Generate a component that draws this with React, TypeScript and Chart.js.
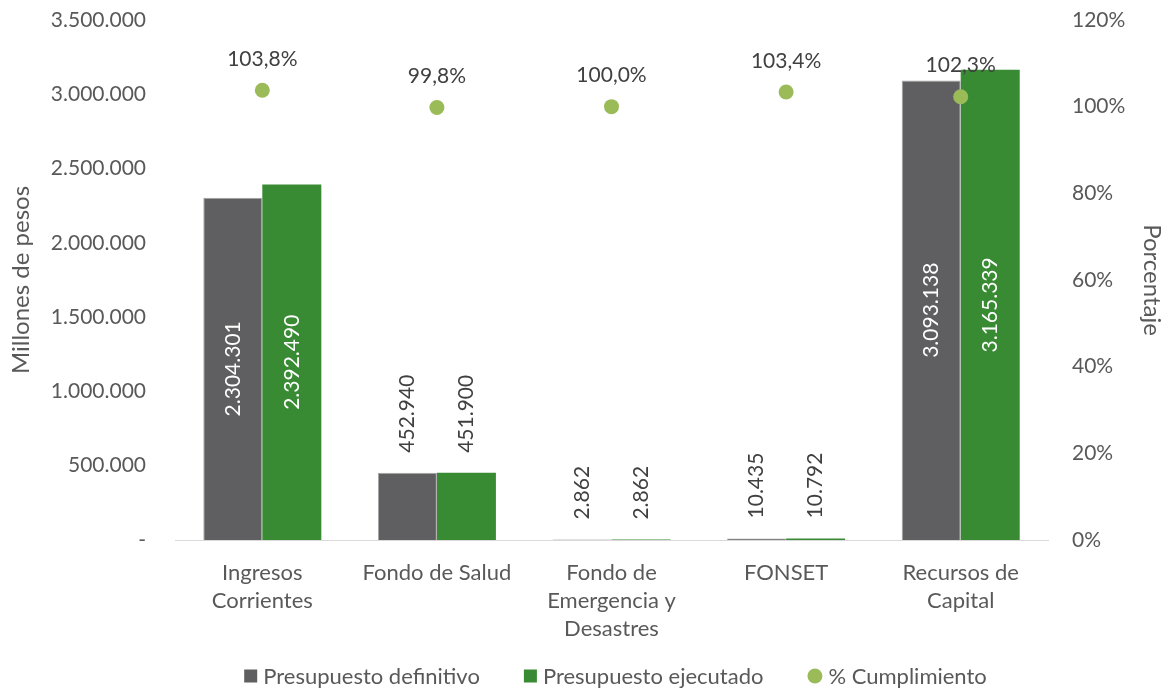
import React, { useEffect, useRef } from "react";
import { Chart, registerables } from "chart.js";

Chart.register(...registerables);

const categories: string[][] = [
  ["Ingresos", "Corrientes"],
  ["Fondo de Salud"],
  ["Fondo de", "Emergencia y", "Desastres"],
  ["FONSET"],
  ["Recursos de", "Capital"],
];
const presupuestoDefinitivo = [2304301, 452940, 2862, 10435, 3093138];
const presupuestoEjecutado = [2392490, 451900, 2862, 10792, 3165339];
const cumplimiento = [103.8, 99.8, 100.0, 103.4, 102.3];

const seriesNames = ["Presupuesto definitivo", "Presupuesto ejecutado", "% Cumplimiento"];

const FONT = "Lato, 'Open Sans', sans-serif";
const TEXT = "#595959";
const LABEL = "#404040";
const GRAY = "#5F5F61";
const GREEN = "#388A33";
const LIGHTGREEN = "#9BBB59";

function fmtThousands(v: number): string {
  const s = Math.round(v).toString();
  return s.replace(/\B(?=(\d{3})+(?!\d))/g, ".");
}
function fmtPct(v: number): string {
  return v.toFixed(1).replace(".", ",") + "%";
}

const labelPlugin = {
  id: "valueLabels",
  afterDatasetsDraw(chart: any) {
    const ctx = chart.ctx;
    ctx.save();
    ctx.font = `21px ${FONT}`;
    [0, 1].forEach((di) => {
      const meta = chart.getDatasetMeta(di);
      const data = chart.data.datasets[di].data as number[];
      meta.data.forEach((el: any, i: number) => {
        const v = data[i];
        const txt = fmtThousands(v);
        ctx.save();
        if (v > 1000000) {
          ctx.translate(el.x, (el.y + el.base) / 2);
          ctx.rotate(-Math.PI / 2);
          ctx.textAlign = "center";
          ctx.textBaseline = "middle";
          ctx.fillStyle = "#FFFFFF";
        } else {
          ctx.translate(el.x, el.y - 20);
          ctx.rotate(-Math.PI / 2);
          ctx.textAlign = "left";
          ctx.textBaseline = "middle";
          ctx.fillStyle = LABEL;
        }
        ctx.fillText(txt, 0, 0);
        ctx.restore();
      });
    });
    const meta2 = chart.getDatasetMeta(2);
    const data2 = chart.data.datasets[2].data as number[];
    meta2.data.forEach((el: any, i: number) => {
      ctx.textAlign = "center";
      ctx.textBaseline = "middle";
      ctx.fillStyle = LABEL;
      ctx.fillText(fmtPct(data2[i]), el.x, el.y - 31);
    });
    ctx.restore();
  },
};

const legendPlugin = {
  id: "customLegend",
  afterDraw(chart: any) {
    const ctx = chart.ctx;
    const area = chart.chartArea;
    ctx.save();
    ctx.font = `22px ${FONT}`;
    ctx.textBaseline = "middle";
    ctx.textAlign = "left";
    const box = 13;
    const gapText = 6;
    const gapItem = 44;
    const items = chart.data.datasets.map((ds: any, i: number) => ({
      text: ds.label as string,
      color: i === 2 ? LIGHTGREEN : (ds.backgroundColor as string),
      circle: i === 2,
      w: 0,
    }));
    let total = 0;
    items.forEach((it: any, i: number) => {
      const sym = it.circle ? 15 : box;
      it.sym = sym;
      it.w = sym + gapText + ctx.measureText(it.text).width;
      total += it.w + (i > 0 ? gapItem : 0);
    });
    let x = (area.left + area.right) / 2 - total / 2 + 4;
    const y = 676;
    items.forEach((it: any) => {
      ctx.fillStyle = it.color;
      if (it.circle) {
        ctx.beginPath();
        ctx.arc(x + it.sym / 2, y, it.sym / 2, 0, Math.PI * 2);
        ctx.fill();
      } else {
        ctx.fillRect(x, y - box / 2, box, box);
      }
      ctx.fillStyle = TEXT;
      ctx.fillText(it.text, x + it.sym + gapText, y + 1);
      x += it.w + gapItem;
    });
    ctx.restore();
  },
};

export default function App() {
  const ref = useRef<HTMLCanvasElement | null>(null);
  useEffect(() => {
    document.body.style.margin = "0";
    if (!ref.current) return;
    const chart = new Chart(ref.current, {
      type: "bar",
      data: {
        labels: categories,
        datasets: [
          {
            type: "bar",
            label: seriesNames[0],
            data: presupuestoDefinitivo,
            backgroundColor: GRAY,
            borderColor: "#A5A5A5",
            borderWidth: 1,
            yAxisID: "y",
            categoryPercentage: 0.676,
            barPercentage: 1.0,
            order: 2,
          } as any,
          {
            type: "bar",
            label: seriesNames[1],
            data: presupuestoEjecutado,
            backgroundColor: GREEN,
            borderWidth: 0,
            yAxisID: "y",
            categoryPercentage: 0.676,
            barPercentage: 1.0,
            order: 2,
          } as any,
          {
            type: "line",
            label: seriesNames[2],
            data: cumplimiento,
            showLine: false,
            pointRadius: 7.5,
            pointBackgroundColor: LIGHTGREEN,
            pointBorderWidth: 0,
            backgroundColor: LIGHTGREEN,
            borderColor: LIGHTGREEN,
            yAxisID: "y1",
            order: 1,
          } as any,
        ],
      },
      options: {
        responsive: false,
        animation: false,
        layout: { padding: { top: 20, left: 0, right: 0, bottom: 0 } },
        plugins: {
          tooltip: { enabled: false },
          legend: { display: false },
        },
        scales: {
          x: {
            grid: { display: false, drawTicks: false },
            border: { display: true, color: "#D9D9D9", width: 1 },
            ticks: {
              color: TEXT,
              font: { family: FONT, size: 22, lineHeight: 1.27 },
              padding: 19,
              maxRotation: 0,
              autoSkip: false,
            },
            afterFit: (s: any) => {
              s.height = 150;
            },
          },
          y: {
            position: "left",
            min: 0,
            max: 3500000,
            grid: { display: false, drawTicks: false },
            border: { display: false },
            ticks: {
              stepSize: 500000,
              color: TEXT,
              font: { family: FONT, size: 21 },
              padding: 29,
              callback: (v: any) => (Number(v) === 0 ? "-" : fmtThousands(Number(v))),
            },
            title: {
              display: true,
              text: "Millones de pesos",
              color: TEXT,
              font: { family: FONT, size: 24 },
              padding: { top: 7, bottom: 0 },
            },
            afterFit: (s: any) => {
              s.width = 175;
              s.paddingTop = 0;
              s.paddingBottom = 0;
            },
          },
          y1: {
            position: "right",
            min: 0,
            max: 120,
            grid: { display: false, drawTicks: false },
            border: { display: false },
            ticks: {
              stepSize: 20,
              color: TEXT,
              font: { family: FONT, size: 21 },
              padding: 24,
              callback: (v: any) => `${v}%`,
            },
            title: {
              display: true,
              text: "Porcentaje",
              color: TEXT,
              font: { family: FONT, size: 24 },
              padding: { top: 3, bottom: 0 },
            },
            afterFit: (s: any) => {
              s.width = 121;
              s.paddingTop = 0;
              s.paddingBottom = 0;
            },
          },
        },
      },
      plugins: [labelPlugin, legendPlugin],
    });
    return () => chart.destroy();
  }, []);
  return (
    <div style={{ width: 1169, height: 690 }}>
      <canvas ref={ref} width={1169} height={690} style={{ display: "block" }} />
    </div>
  );
}
